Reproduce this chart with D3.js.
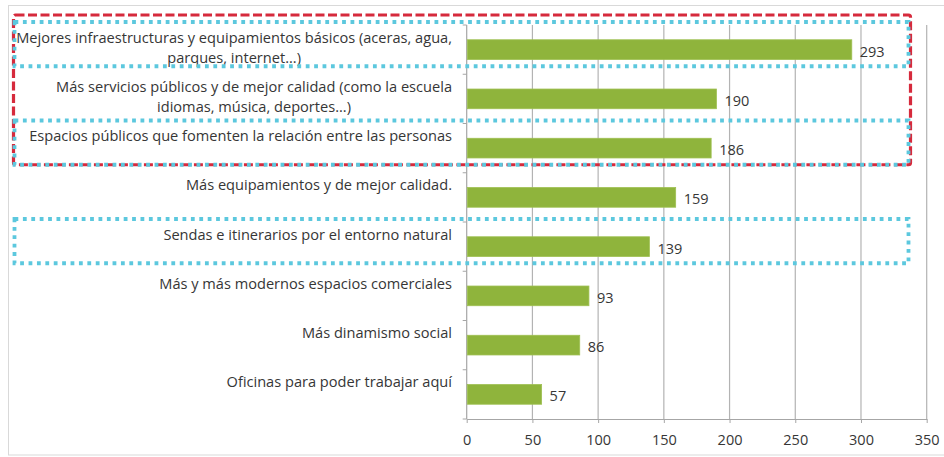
<!DOCTYPE html>
<html>
<head>
<meta charset="utf-8">
<script src="https://cdn.jsdelivr.net/npm/d3@7"></script>
<style>
  html, body { margin: 0; padding: 0; background: #fff; }
  svg { display: block; }
  text { font-family: "Open Sans", Lato, sans-serif; fill: #363636; }
</style>
</head>
<body>
<svg id="chart" width="944" height="457"></svg>
<script>
// Category labels, split into the lines they are shown on
const categories = [
  ["Mejores infraestructuras y equipamientos básicos (aceras, agua,", "parques, internet...)"],
  ["Más servicios públicos y de mejor calidad (como la escuela", "idiomas, música, deportes...)"],
  ["Espacios públicos que fomenten la relación entre las personas"],
  ["Más equipamientos y de mejor calidad."],
  ["Sendas e itinerarios por el entorno natural"],
  ["Más y más modernos espacios comerciales"],
  ["Más dinamismo social"],
  ["Oficinas para poder trabajar aquí"]
];
const values = [293, 190, 186, 159, 139, 93, 86, 57];
const xTicks = [0, 50, 100, 150, 200, 250, 300, 350];

// Highlighted groups of rows (by index)
const redGroup = [0, 2];
const blueGroups = [[0, 0], [2, 2], [4, 4]];

const svg = d3.select("#chart");
const plot = { left: 466.7, right: 926.7, top: 25, bottom: 419 };
const labelRight = 452;

const x = d3.scaleLinear().domain([0, 350]).range([plot.left, plot.right]);
const y = d3.scaleBand()
  .domain(d3.range(categories.length))
  .range([plot.top, plot.bottom])
  .paddingInner(0.6)
  .paddingOuter(0.3);
const step = y.step();
const bandMid = i => y(i) + y.bandwidth() / 2;

// Outer frame
svg.append("rect")
  .attr("x", 8.5).attr("y", 5.5)
  .attr("width", 945).attr("height", 449.5)
  .attr("fill", "none").attr("stroke", "#d9d9d9").attr("stroke-width", 1);

// Vertical gridlines
svg.append("g")
  .selectAll("line")
  .data(xTicks.filter(d => d > 0))
  .join("line")
  .attr("x1", d => x(d)).attr("x2", d => x(d))
  .attr("y1", plot.top).attr("y2", plot.bottom)
  .attr("stroke", "#b3b3b3").attr("stroke-width", 1.2);

// Bottom axis
const xAxis = svg.append("g")
  .attr("transform", `translate(0,${plot.bottom})`)
  .call(d3.axisBottom(x).tickValues(xTicks).tickSize(4).tickPadding(12).tickSizeOuter(0));
xAxis.select(".domain").attr("stroke", "#a6a6a6").attr("stroke-width", 1.2);
xAxis.selectAll(".tick line").attr("stroke", "#a6a6a6");
xAxis.selectAll(".tick text")
  .attr("font-size", 14.5)
  .style("font-family", "'Open Sans', Lato, sans-serif")
  .attr("fill", "#363636");

// Left axis line with ticks on band boundaries
const yAxis = svg.append("g");
yAxis.append("line")
  .attr("x1", plot.left).attr("x2", plot.left)
  .attr("y1", plot.top).attr("y2", plot.bottom)
  .attr("stroke", "#a6a6a6").attr("stroke-width", 1.2);
yAxis.selectAll("line.bt")
  .data(d3.range(categories.length + 1))
  .join("line").attr("class", "bt")
  .attr("x1", plot.left - 4).attr("x2", plot.left)
  .attr("y1", i => plot.top + i * step).attr("y2", i => plot.top + i * step)
  .attr("stroke", "#a6a6a6");

// Bars
svg.append("g")
  .selectAll("rect")
  .data(values)
  .join("rect")
  .attr("x", x(0) + 0.6)
  .attr("y", (d, i) => y(i))
  .attr("width", d => x(d) - x(0) - 0.6)
  .attr("height", y.bandwidth())
  .attr("fill", "#8fb43c")
  .attr("stroke", "#9fc052").attr("stroke-width", 0.8);

// Value labels
svg.append("g")
  .selectAll("text")
  .data(values)
  .join("text")
  .attr("x", d => x(d) + 8)
  .attr("y", (d, i) => bandMid(i) + 2)
  .attr("dy", "0.35em")
  .attr("font-size", 14.5)
  .text(d => d);

// Category labels: two-line blocks, centred lines, right edge aligned
const labelG = svg.append("g");
categories.forEach((lines, i) => {
  const g = labelG.append("g");
  const texts = lines.map((ln, k) =>
    g.append("text")
      .attr("font-size", 14.6)
      .attr("text-anchor", "middle")
      .attr("y", bandMid(i) - 12 + k * 20)
      .attr("dy", "0.35em")
      .text(ln));
  const w = d3.max(texts, t => t.node().getComputedTextLength());
  texts.forEach(t => t.attr("x", labelRight - w / 2));
});

// Highlight frames
const ann = svg.append("g").attr("fill", "none");
ann.append("rect")
  .attr("x", 13.5)
  .attr("y", plot.top + redGroup[0] * step - 10)
  .attr("width", 897)
  .attr("height", (redGroup[1] - redGroup[0] + 1) * step + 2)
  .attr("stroke", "#d62a3c").attr("stroke-width", 3.2)
  .attr("stroke-dasharray", "9 3.5")
  .attr("rx", 2);
ann.selectAll("rect.blue")
  .data(blueGroups)
  .join("rect").attr("class", "blue")
  .attr("x", 14.5)
  .attr("y", d => plot.top + d[0] * step - 3)
  .attr("width", 894)
  .attr("height", d => (d[1] - d[0] + 1) * step - 5)
  .attr("stroke", "#5cc8de").attr("stroke-width", 3.8)
  .attr("stroke-dasharray", "3.8 4.6");
</script>
</body>
</html>
